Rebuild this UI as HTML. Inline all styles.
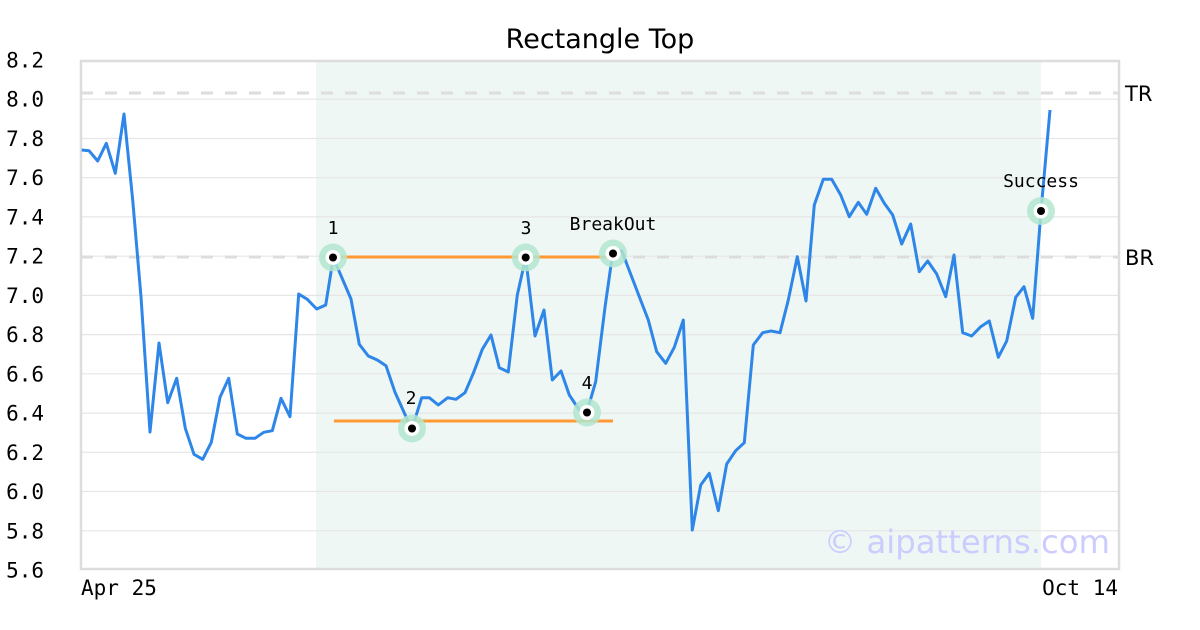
<!DOCTYPE html>
<html><head><meta charset="utf-8"><style>
html,body{margin:0;padding:0;background:#fff;}
svg{display:block;}
</style></head><body>
<svg width="1200" height="630" viewBox="0 0 1200 630" xmlns="http://www.w3.org/2000/svg">
<rect x="0" y="0" width="1200" height="630" fill="#fff"/>
<rect x="316" y="61" width="725" height="508" fill="#eff7f4"/>
<g stroke="#e6e6e6" stroke-width="1.2">
<line x1="81" y1="99.2" x2="1119" y2="99.2"/>
<line x1="81" y1="138.5" x2="1119" y2="138.5"/>
<line x1="81" y1="177.7" x2="1119" y2="177.7"/>
<line x1="81" y1="216.9" x2="1119" y2="216.9"/>
<line x1="81" y1="256.2" x2="1119" y2="256.2"/>
<line x1="81" y1="295.4" x2="1119" y2="295.4"/>
<line x1="81" y1="334.6" x2="1119" y2="334.6"/>
<line x1="81" y1="373.8" x2="1119" y2="373.8"/>
<line x1="81" y1="413.1" x2="1119" y2="413.1"/>
<line x1="81" y1="452.3" x2="1119" y2="452.3"/>
<line x1="81" y1="491.5" x2="1119" y2="491.5"/>
<line x1="81" y1="530.8" x2="1119" y2="530.8"/>
</g>
<g stroke="#dddddd" stroke-width="3" stroke-dasharray="12,12">
<line x1="81" y1="93" x2="1119" y2="93"/>
<line x1="81" y1="257" x2="1119" y2="257"/>
</g>
<rect x="81" y="61" width="1038" height="508" fill="none" stroke="#dddddd" stroke-width="2.5"/>
<text x="1110" y="542" text-anchor="end" dominant-baseline="central" font-family="DejaVu Sans, sans-serif" font-size="32.3" fill="#ccccff">© aipatterns.com</text>
<g stroke="#ff9933" stroke-width="3">
<line x1="333" y1="257" x2="613" y2="257"/>
<line x1="334" y1="421" x2="613" y2="421"/>
</g>
<polyline fill="none" stroke="#2e86e8" stroke-width="3" stroke-linejoin="round" points="81.7,150 89,150.7 97.7,161 106.3,143.3 115.3,173.3 124,114 132.7,200 141,296.7 150,432 159,343 167.7,402.7 176.7,378.3 185.3,428.3 194,454.3 202.7,459.3 211.3,442.3 220,397.3 228.7,378.3 237.3,434 246,438.3 255,438.3 263.7,432.3 272.3,430.7 281,398.3 290,416.7 298.7,294 307.3,299.3 316.7,309 325.7,305 333.3,257.7 351,299 359.3,344.3 368.3,356 377.3,360 386,365.7 395,392.3 406.7,418.3 412,428.7 421.7,397.7 429.3,397.7 438.3,405 447.7,397.7 456,399.3 465,392.7 473.3,373.3 482.3,349.3 491,335 499.3,367.7 508.3,372 517.3,295 525.7,257.7 535,336 544,310 552.3,380 561,371 569.3,395 579.3,410 586.7,412.7 595.7,381.7 605,307.3 612.7,253.3 621.7,250.7 631,275 639.3,296.7 648.3,320 656.7,351.7 665.7,363.3 674.3,347.3 683.3,320 692.3,530 700.7,485 709.3,473.3 718.3,510.7 726.7,464 735.7,450.7 744.3,442.7 753.3,345 762.7,332.7 771,331 780,332.7 788.3,300 797.3,256.7 806,301 814.3,205 823.3,179.3 831.7,179.3 840.7,195 849.3,216.7 858.3,202.3 866.7,214.3 875.7,188.3 884.3,203.3 892.7,215 901.7,244 910.7,224 919.3,271.7 927.7,261 936.7,274 945.7,296.7 954,255 962.7,332.7 971.7,336 980.7,326.7 989.3,321 998.3,357.3 1006.7,341 1015.7,297.3 1024,286.7 1032.7,318.3 1041,211 1050,110"/>
<g>
<circle cx="333" cy="257.5" r="14" fill="#b3e6cf" fill-opacity="0.85"/><circle cx="333" cy="257.5" r="7.5" fill="#fff"/><circle cx="333" cy="257.5" r="4" fill="#000"/>
<circle cx="412" cy="428.5" r="14" fill="#b3e6cf" fill-opacity="0.85"/><circle cx="412" cy="428.5" r="7.5" fill="#fff"/><circle cx="412" cy="428.5" r="4" fill="#000"/>
<circle cx="525.7" cy="257.5" r="14" fill="#b3e6cf" fill-opacity="0.85"/><circle cx="525.7" cy="257.5" r="7.5" fill="#fff"/><circle cx="525.7" cy="257.5" r="4" fill="#000"/>
<circle cx="587" cy="412.5" r="14" fill="#b3e6cf" fill-opacity="0.85"/><circle cx="587" cy="412.5" r="7.5" fill="#fff"/><circle cx="587" cy="412.5" r="4" fill="#000"/>
<circle cx="613" cy="253.5" r="14" fill="#b3e6cf" fill-opacity="0.85"/><circle cx="613" cy="253.5" r="7.5" fill="#fff"/><circle cx="613" cy="253.5" r="4" fill="#000"/>
<circle cx="1041" cy="211" r="14" fill="#b3e6cf" fill-opacity="0.85"/><circle cx="1041" cy="211" r="7.5" fill="#fff"/><circle cx="1041" cy="211" r="4" fill="#000"/>
</g>
<g font-family="DejaVu Sans Mono, Liberation Mono, monospace" font-size="18" fill="#000" text-anchor="middle">
<text x="333" y="234">1</text>
<text x="411" y="404">2</text>
<text x="526" y="234">3</text>
<text x="587" y="389">4</text>
<text x="613" y="230">BreakOut</text>
<text x="1041" y="187">Success</text>
</g>
<g font-family="DejaVu Sans Mono, Liberation Mono, monospace" font-size="21" fill="#000" text-anchor="end">
<text x="44" y="67.5">8.2</text>
<text x="44" y="106.7">8.0</text>
<text x="44" y="146">7.8</text>
<text x="44" y="185.2">7.6</text>
<text x="44" y="224.4">7.4</text>
<text x="44" y="263.7">7.2</text>
<text x="44" y="302.9">7.0</text>
<text x="44" y="342.1">6.8</text>
<text x="44" y="381.3">6.6</text>
<text x="44" y="420.6">6.4</text>
<text x="44" y="459.8">6.2</text>
<text x="44" y="499">6.0</text>
<text x="44" y="538.3">5.8</text>
<text x="44" y="577.5">5.6</text>
</g>
<g font-family="DejaVu Sans Mono, Liberation Mono, monospace" font-size="21" fill="#000">
<text x="81" y="595">Apr 25</text>
<text x="1118" y="595" text-anchor="end">Oct 14</text>
</g>
<g font-family="DejaVu Sans, sans-serif" font-size="21" fill="#000">
<text x="1125" y="101">TR</text>
<text x="1125" y="265">BR</text>
</g>
<text x="600" y="48" text-anchor="middle" font-family="DejaVu Sans, sans-serif" font-size="27" fill="#000">Rectangle Top</text>
</svg>
</body></html>
